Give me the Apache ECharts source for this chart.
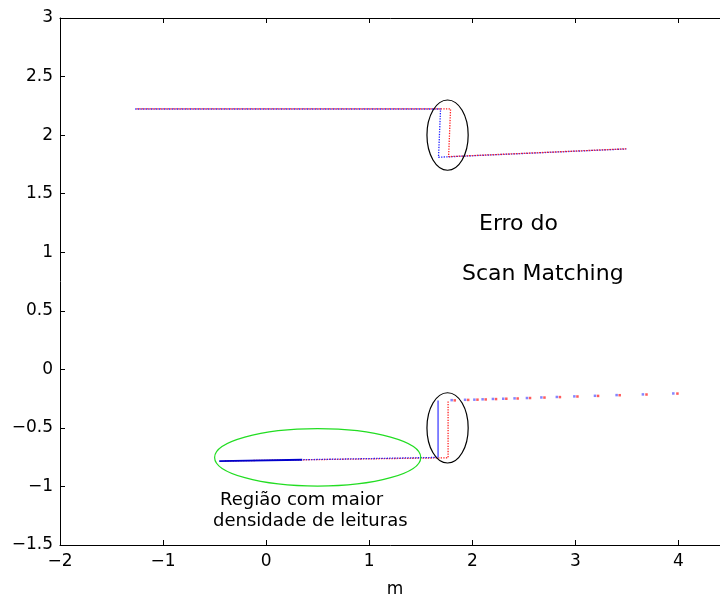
<!DOCTYPE html>
<html><head><meta charset="utf-8">
<script src="https://cdn.jsdelivr.net/npm/echarts@6/dist/echarts.min.js"></script>
<style>html,body{margin:0;padding:0;background:#fff}#c{width:720px;height:596px}</style>
</head><body><div id="c"></div>
<script>
// axis ranges / ticks
const xRange = [-2, 4.5];
const xStep = 1;
const yRange = [-1.5, 3];
const yStep = 0.5;

// upper wall: blue = odometry scan, red = matched scan
const blueUpper = [[-1.27, 2.223], [1.692, 2.223], [1.672, 1.811], [3.495, 1.882]];
const redUpper  = [[-1.27, 2.224], [1.789, 2.224], [1.770, 1.816], [3.495, 1.883]];

// lower wall
const blueLowerDense = [[-0.455, -0.783], [0.35, -0.772]];
const blueLower = [[0.35, -0.772], [1.668, -0.752]];
const blueLowerRise = [[1.668, -0.752], [1.668, -0.266]];
const redLower  = [[-0.40, -0.782], [1.765, -0.755], [1.765, -0.268]];

// sparse far readings
const blueSparse = [[1.80,-0.263],[1.93,-0.260],[2.02,-0.259],[2.10,-0.256],[2.20,-0.253],[2.30,-0.251],[2.41,-0.248],[2.53,-0.245],[2.67,-0.240],[2.82,-0.236],[2.99,-0.231],[3.19,-0.226],[3.40,-0.220],[3.655,-0.214],[3.95,-0.206]];
const redSparse  = [[1.83,-0.265],[1.96,-0.261],[2.05,-0.259],[2.13,-0.257],[2.23,-0.254],[2.33,-0.251],[2.44,-0.249],[2.56,-0.245],[2.70,-0.241],[2.85,-0.237],[3.02,-0.232],[3.22,-0.227],[3.43,-0.221],[3.69,-0.215],[3.99,-0.207]];

// annotation ellipses (center x, center y, radius x, radius y) in data units
const blackEllipses = [[1.76, 2.0, 0.2, 0.30], [1.76, -0.5, 0.2, 0.30]];
const greenEllipse = [0.5, -0.752, 1.0, 0.245];

const font = 'DejaVu Sans';
const minus = v => String(v).replace('-', '\u2212');

const chart = echarts.init(document.getElementById('c'), null, {renderer: 'canvas'});

const axisCommon = {
  type: 'value',
  axisLine: {show: true, onZero: false, lineStyle: {color: '#000', width: 1}},
  axisTick: {show: true, inside: true, length: 5, lineStyle: {color: '#000', width: 1}},
  splitLine: {show: false}
};

const dotted = (color, offset) => ({color: color, width: 1.3, type: [1.3, 1.3], dashOffset: offset || 0});

chart.setOption({
  animation: false,
  backgroundColor: '#fff',
  grid: {left: 60, right: -10, top: 18, bottom: 51, containLabel: false, outerBoundsMode: 'none'},
  xAxis: [
    Object.assign({}, axisCommon, {
      min: xRange[0], max: xRange[1], interval: xStep, position: 'bottom',
      axisLabel: {fontFamily: font, fontSize: 17, color: '#000', margin: 8,
        formatter: v => Number.isInteger(v) ? minus(v) : ''},
      name: 'm', nameLocation: 'middle', nameGap: 36,
      nameTextStyle: {fontFamily: font, fontSize: 17, color: '#000'}
    }),
    Object.assign({}, axisCommon, {
      min: xRange[0], max: xRange[1], interval: xStep, position: 'top',
      axisLabel: {show: false}
    })
  ],
  yAxis: Object.assign({}, axisCommon, {
    min: yRange[0], max: yRange[1], interval: yStep,
    axisLabel: {fontFamily: font, fontSize: 17, color: '#000', margin: 7, formatter: v => minus(v)}
  }),
  series: [
    {type: 'line', data: blueUpper, symbol: 'none', lineStyle: dotted('#2020ff'), z: 2},
    {type: 'line', data: redUpper, symbol: 'none', lineStyle: dotted('#ff2020', 1.3), z: 3},
    {type: 'line', data: redLower, symbol: 'none', lineStyle: dotted('#ff2020'), z: 2},
    {type: 'line', data: blueLower, symbol: 'none', lineStyle: dotted('#2020ff', 1.3), z: 3},
    {type: 'line', data: blueLowerRise, symbol: 'none', lineStyle: {color: '#7777ff', width: 1.8}, z: 3},
    {type: 'line', data: blueLowerDense, symbol: 'none', lineStyle: {color: '#0000cc', width: 1.8}, z: 3},
    {type: 'scatter', data: redSparse, symbol: 'rect', symbolSize: 2.5, itemStyle: {color: '#ff3333'}, z: 2},
    {type: 'scatter', data: blueSparse, symbol: 'rect', symbolSize: 2.5, itemStyle: {color: '#6666ff'}, z: 3}
  ]
});

function ellipseGraphic(e, color) {
  const c = chart.convertToPixel({gridIndex: 0}, [e[0], e[1]]);
  const r = chart.convertToPixel({gridIndex: 0}, [e[0] + e[2], e[1] + e[3]]);
  return {type: 'ellipse', silent: true, z: 10,
    shape: {cx: c[0], cy: c[1], rx: Math.abs(r[0] - c[0]), ry: Math.abs(c[1] - r[1])},
    style: {fill: 'none', stroke: color, lineWidth: 1.2}};
}
function label(text, x, y, size) {
  return {type: 'text', silent: true, z: 10, x: x, y: y,
    style: {text: text, font: size + 'px "' + font + '"', fill: '#000', verticalAlign: 'middle', align: 'left'}};
}

chart.setOption({
  graphic: [
    ellipseGraphic(blackEllipses[0], '#000'),
    ellipseGraphic(blackEllipses[1], '#000'),
    ellipseGraphic(greenEllipse, '#22dd22'),
    label('Erro do', 479, 224, 22),
    label('Scan Matching', 462, 274, 22),
    label('Região com maior', 220, 500, 18),
    label('densidade de leituras', 213, 521, 18)
  ]
});
</script>
</body></html>
